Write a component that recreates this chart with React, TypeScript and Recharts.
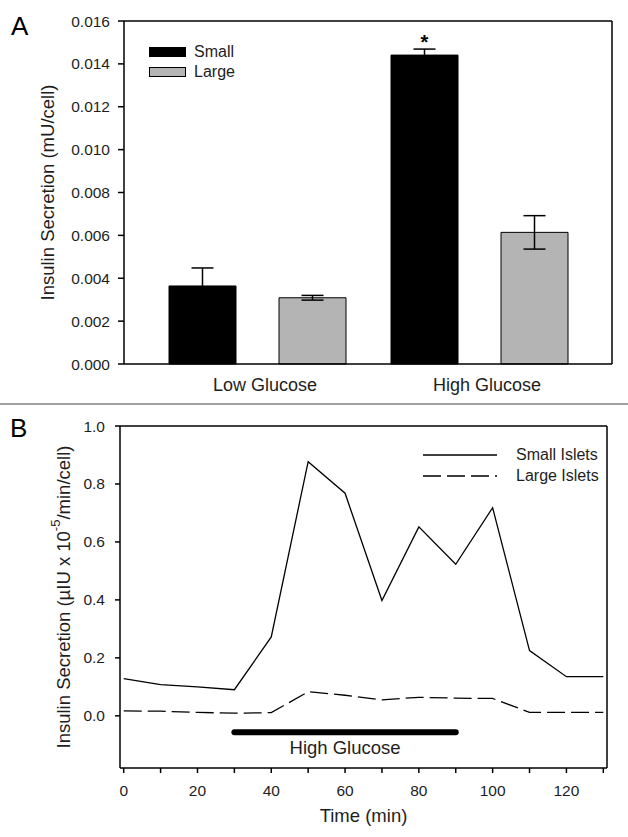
import React from "react";
import {
  BarChart,
  Bar,
  ErrorBar,
  LabelList,
  LineChart,
  Line,
  XAxis,
  YAxis,
  Legend,
  ReferenceLine,
} from "recharts";

const FONT = '"Liberation Sans", Arial, sans-serif';
const INK = "#1e1e1e";
const AXIS = { stroke: "#000", strokeWidth: 1.5 };

// --- panel A: insulin per cell, small vs large islets
const glucoseGroups = ["Low Glucose", "High Glucose"];
const smallMean = [0.00364, 0.01441];
const smallErr = [0.00084, 0.00028];
const largeMean = [0.00309, 0.00614];
const largeErr = [0.00011, 0.00078];
const significance = ["", "*"];
const secretionTicks = [0, 0.002, 0.004, 0.006, 0.008, 0.01, 0.012, 0.014, 0.016];

// --- panel B: perifusion time course
const timeMin = [0, 10, 20, 30, 40, 50, 60, 70, 80, 90, 100, 110, 120, 130];
const smallIslets = [0.128, 0.108, 0.1, 0.09, 0.272, 0.877, 0.768, 0.398, 0.652, 0.523, 0.718, 0.225, 0.135, 0.135];
const largeIslets = [0.017, 0.016, 0.012, 0.009, 0.011, 0.083, 0.071, 0.055, 0.064, 0.061, 0.06, 0.012, 0.012, 0.012];
const timeTicks = [0, 10, 20, 30, 40, 50, 60, 70, 80, 90, 100, 110, 120, 130];
const rateTicks = [0, 0.2, 0.4, 0.6, 0.8, 1.0];
const highGlucoseStart = 30;
const highGlucoseEnd = 90;
const highGlucoseMark = -0.057;

const barData = glucoseGroups.map((group, i) => ({
  group,
  small: smallMean[i],
  smallErr: smallErr[i],
  large: largeMean[i],
  largeErr: largeErr[i],
  sig: significance[i],
}));

const timeData = timeMin.map((t, i) => ({
  t,
  small: smallIslets[i],
  large: largeIslets[i],
}));

const tickStyle = { fill: INK, fontSize: 15.5, fontFamily: FONT };

// rotated y title, centred on the plot height
const yTitle = (cx: number, body: React.ReactNode) => (props: any) => {
  const vb = props.viewBox || { y: 0, height: 0 };
  const cy = vb.y + vb.height / 2;
  return (
    <text
      x={cx}
      y={cy}
      transform={`rotate(-90 ${cx} ${cy})`}
      textAnchor="middle"
      dominantBaseline="central"
      fontSize={18.5}
      fontFamily={FONT}
      fill={INK}
    >
      {body}
    </text>
  );
};

const barSeries = [
  { name: "Small", fill: "#000" },
  { name: "Large", fill: "#b4b4b4" },
];

const lineSeries = [
  { name: "Small Islets", dash: undefined as string | undefined },
  { name: "Large Islets", dash: "18 6" },
];

function LegendA() {
  return (
    <div style={{ fontFamily: FONT, fontSize: 16, color: INK }}>
      {barSeries.map((s) => (
        <div key={s.name} style={{ display: "flex", alignItems: "center", height: 20 }}>
          <span
            style={{
              display: "inline-block",
              width: 35,
              height: 8,
              background: s.fill,
              border: "1px solid #000",
              marginRight: 8,
            }}
          />
          {s.name}
        </div>
      ))}
    </div>
  );
}

function LegendB() {
  return (
    <div style={{ fontFamily: FONT, fontSize: 16, color: INK }}>
      {lineSeries.map((s) => (
        <div key={s.name} style={{ display: "flex", alignItems: "center", height: 21.5 }}>
          <svg width={74} height={4} style={{ marginRight: 19 }}>
            <line x1={0} y1={2} x2={74} y2={2} stroke="#000" strokeWidth={1.3} strokeDasharray={s.dash} />
          </svg>
          {s.name}
        </div>
      ))}
    </div>
  );
}

function PanelA() {
  return (
    <BarChart
      width={628}
      height={400}
      data={barData}
      margin={{ top: 20, right: 15, bottom: 0, left: 0 }}
      barSize={67}
      barGap={43}
      barCategoryGap={22}
    >
      <XAxis
        dataKey="group"
        height={36}
        axisLine={AXIS}
        tickLine={false}
        tickSize={0}
        tickMargin={14}
        padding={{ left: 22, right: 22 }}
        tick={{ fill: INK, fontSize: 18, fontFamily: FONT, dx: 8 }}
      />
      <XAxis xAxisId="top" dataKey="group" orientation="top" height={1} tick={false} tickLine={false} axisLine={AXIS} />
      <YAxis
        domain={[0, 0.016]}
        ticks={secretionTicks}
        width={124}
        tickSize={6}
        tickMargin={8}
        tickLine={AXIS}
        axisLine={AXIS}
        tick={tickStyle}
        tickFormatter={(v: number) => v.toFixed(3)}
        label={{ content: yTitle(47, "Insulin Secretion (mU/cell)") }}
      />
      <YAxis yAxisId="right" orientation="right" width={1} domain={[0, 0.016]} tick={false} tickLine={false} axisLine={AXIS} />
      <Legend
        content={LegendA}
        layout="horizontal"
        verticalAlign="middle"
        align="center"
        wrapperStyle={{ left: 149, top: 42, width: "auto", height: "auto" }}
      />
      <Bar dataKey="small" name="Small" fill={barSeries[0].fill} stroke="#000" isAnimationActive={false}>
        <ErrorBar dataKey="smallErr" width={11} stroke="#000" strokeWidth={1.5} direction="y" />
        <LabelList dataKey="sig" position="top" offset={6} fill="#000" fontSize={20} fontWeight="bold" fontFamily={FONT} />
      </Bar>
      <Bar dataKey="large" name="Large" fill={barSeries[1].fill} stroke="#000" isAnimationActive={false}>
        <ErrorBar dataKey="largeErr" width={11} stroke="#000" strokeWidth={1.5} direction="y" />
      </Bar>
    </BarChart>
  );
}

function PanelB() {
  return (
    <LineChart width={628} height={433} data={timeData} margin={{ top: 21, right: 20, bottom: 0, left: 0 }}>
      <XAxis
        dataKey="t"
        type="number"
        domain={[-1, 131]}
        ticks={timeTicks}
        interval={0}
        height={69}
        tickSize={5}
        tickMargin={12}
        tickLine={AXIS}
        axisLine={AXIS}
        tick={tickStyle}
        tickFormatter={(v: number) => (v % 20 === 0 ? String(v) : "")}
        label={{ value: "Time (min)", position: "insideBottom", offset: 15, fill: INK, fontSize: 18.5, fontFamily: FONT }}
      />
      <XAxis xAxisId="top" type="number" domain={[-1, 131]} orientation="top" height={1} tick={false} tickLine={false} axisLine={AXIS} />
      <YAxis
        type="number"
        domain={[-0.18, 1]}
        ticks={rateTicks}
        interval={0}
        width={120}
        tickSize={5}
        tickMargin={10}
        tickLine={AXIS}
        axisLine={AXIS}
        tick={tickStyle}
        tickFormatter={(v: number) => v.toFixed(1)}
        label={{
          content: yTitle(
            63,
            <>
              {"Insulin Secretion (\u00b5IU x 10"}
              <tspan baselineShift="super" fontSize={13}>
                -5
              </tspan>
              {"/min/cell)"}
            </>
          ),
        }}
      />
      <YAxis yAxisId="right" orientation="right" width={1} domain={[-0.18, 1]} tick={false} tickLine={false} axisLine={AXIS} />
      <ReferenceLine
        segment={[
          { x: highGlucoseStart, y: highGlucoseMark },
          { x: highGlucoseEnd, y: highGlucoseMark },
        ]}
        stroke="#000"
        strokeWidth={6}
        strokeLinecap="round"
        label={{ value: "High Glucose", position: "bottom", offset: 9, fill: INK, fontSize: 18.5, fontFamily: FONT }}
      />
      <Legend
        content={LegendB}
        layout="horizontal"
        verticalAlign="middle"
        align="center"
        wrapperStyle={{ left: 423, top: 40, width: "auto", height: "auto" }}
      />
      <Line dataKey="small" name="Small Islets" type="linear" stroke="#000" strokeWidth={1.3} dot={false} isAnimationActive={false} />
      <Line
        dataKey="large"
        name="Large Islets"
        type="linear"
        stroke="#000"
        strokeWidth={1.3}
        strokeDasharray={lineSeries[1].dash}
        dot={false}
        isAnimationActive={false}
      />
    </LineChart>
  );
}

export default function App() {
  return (
    <div style={{ position: "absolute", left: 0, top: 0, width: 628, height: 837, background: "#fff" }}>
      <div style={{ position: "absolute", left: 0, top: 0 }}>
        <PanelA />
      </div>
      <div style={{ position: "absolute", left: 0, top: 404 }}>
        <PanelB />
      </div>
      <svg width={628} height={837} style={{ position: "absolute", left: 0, top: 0, pointerEvents: "none" }}>
        <line x1={0} y1={404} x2={628} y2={404} stroke="#808080" strokeWidth={1.5} />
        <text x={11} y={35} fontSize={26} fontFamily={FONT} fill="#000">
          A
        </text>
        <text x={10} y={437} fontSize={26} fontFamily={FONT} fill="#000">
          B
        </text>
      </svg>
    </div>
  );
}
